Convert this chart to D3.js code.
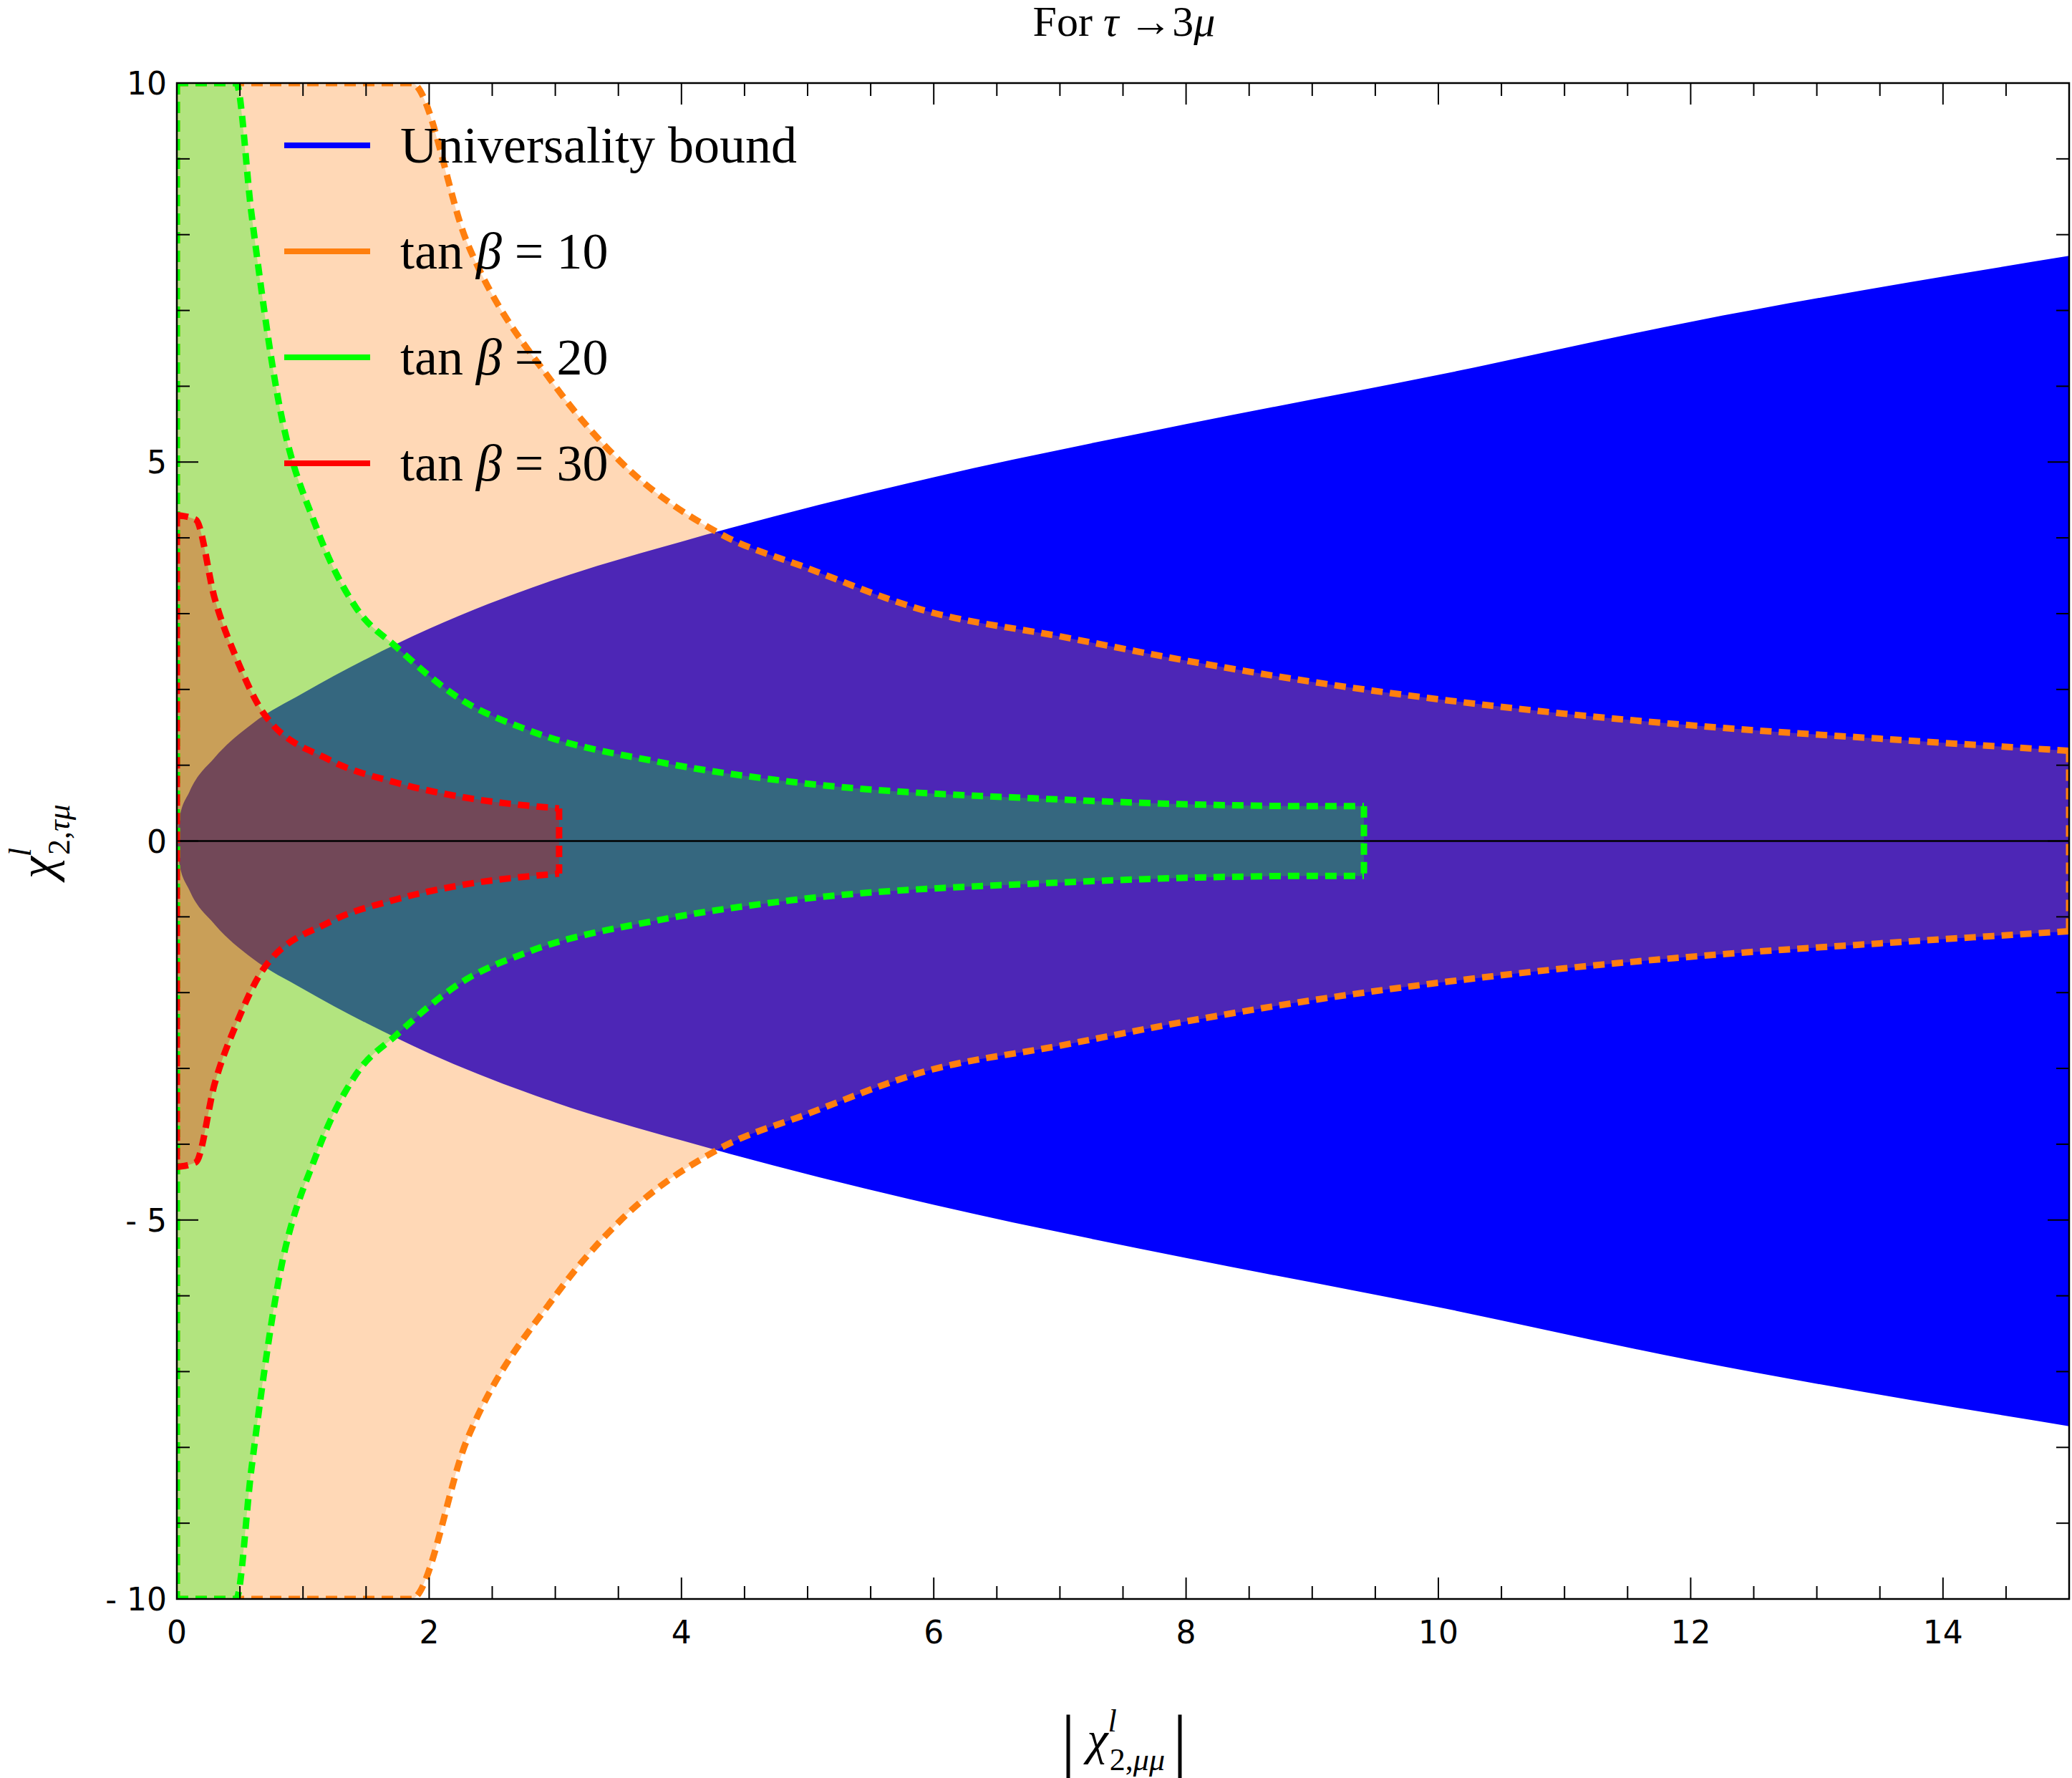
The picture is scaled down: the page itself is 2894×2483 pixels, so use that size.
<!DOCTYPE html>
<html>
<head>
<meta charset="utf-8">
<script src="https://cdn.jsdelivr.net/npm/d3@7"></script>
<style>
  body { margin: 0; background: #fff; }
  text { font-family: "DejaVu Sans", sans-serif; }
  .serif { font-family: "Liberation Serif", "DejaVu Serif", serif; }
</style>
</head>
<body>
<svg id="chart" width="2894" height="2483"></svg>
<script>
// universality bound: |chi_tau_mu| <= upper edge (symmetric)
const blueX = [0, 0.02, 0.1, 0.3, 0.6, 1, 1.5, 2, 3, 4, 6, 8, 10, 12, 15];
const blueY = [0, 0.3, 0.65, 1.1, 1.55, 1.95, 2.4, 2.8, 3.45, 3.95, 4.8, 5.5, 6.15, 6.85, 7.72];

// tan beta = 10
const orangeX = [0, 1.86, 2.3, 3.0, 3.52, 4.3, 5.0, 5.93, 7.0, 8.0, 9.0, 10.1, 11.0, 12.2, 13.5, 15];
const orangeY = [10, 10, 7.9, 6.0, 5.0, 4.06, 3.6, 3.04, 2.7, 2.38, 2.1, 1.85, 1.68, 1.5, 1.35, 1.19];

// tan beta = 20
const greenX = [0, 0.47, 0.59, 0.8, 1.11, 1.42, 1.74, 2.26, 2.79, 3.83, 4.88, 6.97, 9.07, 9.41];
const greenY = [10, 10, 8.3, 5.86, 4.12, 3.08, 2.56, 1.86, 1.46, 1.04, 0.78, 0.55, 0.46, 0.46];

// tan beta = 30
const redX = [0, 0.15, 0.3, 0.48, 0.69, 1.21, 1.74, 2.26, 3.03];
const redY = [4.3, 4.24, 3.2, 2.38, 1.68, 1.07, 0.77, 0.58, 0.43];

const legendLabels = ["Universality bound", "10", "20", "30"];
const legendColors = ["#0000ff", "#ff7f0e", "#00ff00", "#ff0000"];
const xTicks = [0, 2, 4, 6, 8, 10, 12, 14];
const yTicks = [-10, -5, 0, 5, 10];

const svg = d3.select("#chart");
const L = 247, R = 2890, T = 116, B = 2233;
const x = d3.scaleLinear().domain([0, 15]).range([L, R]);
const y = d3.scaleLinear().domain([-10, 10]).range([B, T]);

svg.append("defs").append("clipPath").attr("id", "clip")
  .append("rect").attr("x", L).attr("y", T).attr("width", R - L).attr("height", B - T);
const plot = svg.append("g").attr("clip-path", "url(#clip)");

const zip = (xs, ys) => xs.map((v, i) => [v, ys[i]]);
const area = d3.area().curve(d3.curveMonotoneX)
  .x(d => x(d[0])).y0(d => y(-d[1])).y1(d => y(d[1]));
const upper = d3.line().curve(d3.curveMonotoneX).x(d => x(d[0])).y(d => y(d[1]));
const lower = d3.line().curve(d3.curveMonotoneX).x(d => x(d[0])).y(d => y(-d[1]));

// blue region, opaque
plot.append("path").attr("d", area(zip(blueX, blueY))).attr("fill", "#0000ff");

const regions = [
  { pts: zip(orangeX, orangeY), c: "#ff7f0e" },
  { pts: zip(greenX, greenY), c: "#00ff00" },
  { pts: zip(redX, redY), c: "#ff0000" }
];
regions.forEach(r => {
  plot.append("path").attr("d", area(r.pts)).attr("fill", r.c).attr("fill-opacity", 0.3);
});

// zero line
plot.append("line").attr("x1", L).attr("x2", R).attr("y1", y(0)).attr("y2", y(0))
  .attr("stroke", "#000").attr("stroke-width", 2.5);

regions.forEach(r => {
  const first = r.pts[0], last = r.pts[r.pts.length - 1];
  const edges = [upper(r.pts), lower(r.pts),
    `M${x(first[0])},${y(first[1])}L${x(first[0])},${y(-first[1])}`,
    `M${x(last[0])},${y(last[1])}L${x(last[0])},${y(-last[1])}`];
  edges.forEach(d => plot.append("path").attr("d", d).attr("fill", "none")
    .attr("stroke", r.c).attr("stroke-width", 9).attr("stroke-dasharray", "16 10"));
});

// frame and ticks
svg.append("rect").attr("x", L).attr("y", T).attr("width", R - L).attr("height", B - T)
  .attr("fill", "none").attr("stroke", "#000").attr("stroke-width", 2.5);

const tk = svg.append("g").attr("stroke", "#000").attr("stroke-width", 2);
d3.range(0, 15.01, 0.5).forEach(v => {
  const len = v % 2 === 0 ? 30 : 18;
  tk.append("line").attr("x1", x(v)).attr("x2", x(v)).attr("y1", B).attr("y2", B - len);
  tk.append("line").attr("x1", x(v)).attr("x2", x(v)).attr("y1", T).attr("y2", T + len);
});
d3.range(-10, 10.01, 1).forEach(v => {
  const len = v % 5 === 0 ? 30 : 18;
  tk.append("line").attr("y1", y(v)).attr("y2", y(v)).attr("x1", L).attr("x2", L + len);
  tk.append("line").attr("y1", y(v)).attr("y2", y(v)).attr("x1", R).attr("x2", R - len);
});

svg.append("g").selectAll("text").data(xTicks).join("text")
  .attr("x", d => x(d)).attr("y", B + 62).attr("text-anchor", "middle")
  .attr("font-size", 44).text(d => d);
svg.append("g").selectAll("text").data(yTicks).join("text")
  .attr("x", L - 14).attr("y", d => y(d) + 16).attr("text-anchor", "end")
  .attr("font-size", 44).text(d => d < 0 ? "- " + (-d) : d);

// title
const title = svg.append("text").attr("class", "serif").attr("x", 1570).attr("y", 50)
  .attr("text-anchor", "middle").attr("font-size", 60);
title.append("tspan").text("For ");
title.append("tspan").attr("font-style", "italic").text("τ");
title.append("tspan").text(" →3");
title.append("tspan").attr("font-style", "italic").text("μ");

// axis labels
const xl = svg.append("text").attr("class", "serif").attr("x", 1570).attr("y", 2450)
  .attr("text-anchor", "middle").attr("font-size", 66);
xl.append("tspan").attr("font-size", 100).attr("dy", 14).text("|");
xl.append("tspan").attr("font-style", "italic").attr("dy", -14).text(" χ");
xl.append("tspan").attr("font-style", "italic").attr("font-size", 44).attr("dy", -32).text("l");
xl.append("tspan").attr("font-size", 44).attr("dx", -10).attr("dy", 54).text("2,");
xl.append("tspan").attr("font-style", "italic").attr("font-size", 44).text("μμ ");
xl.append("tspan").attr("font-size", 100).attr("dy", -8).text("|");

const yl = svg.append("text").attr("class", "serif")
  .attr("transform", "translate(75,1175) rotate(-90)")
  .attr("text-anchor", "middle").attr("font-size", 70);
yl.append("tspan").attr("font-style", "italic").text("χ");
yl.append("tspan").attr("font-style", "italic").attr("font-size", 44).attr("dy", -32).text("l");
yl.append("tspan").attr("font-size", 44).attr("dx", -10).attr("dy", 54).text("2,");
yl.append("tspan").attr("font-style", "italic").attr("font-size", 44).text("τμ");

// legend
const lg = svg.append("g");
legendLabels.forEach((lab, i) => {
  const ly = 203 + i * 148;
  lg.append("line").attr("x1", 397).attr("x2", 517).attr("y1", ly).attr("y2", ly)
    .attr("stroke", legendColors[i]).attr("stroke-width", 8);
  const t = lg.append("text").attr("class", "serif").attr("x", 559).attr("y", ly + 24)
    .attr("font-size", 72);
  if (i === 0) { t.text(lab); return; }
  t.append("tspan").text("tan ");
  t.append("tspan").attr("font-style", "italic").text("β");
  t.append("tspan").text(" = " + lab);
});
</script>
</body>
</html>
